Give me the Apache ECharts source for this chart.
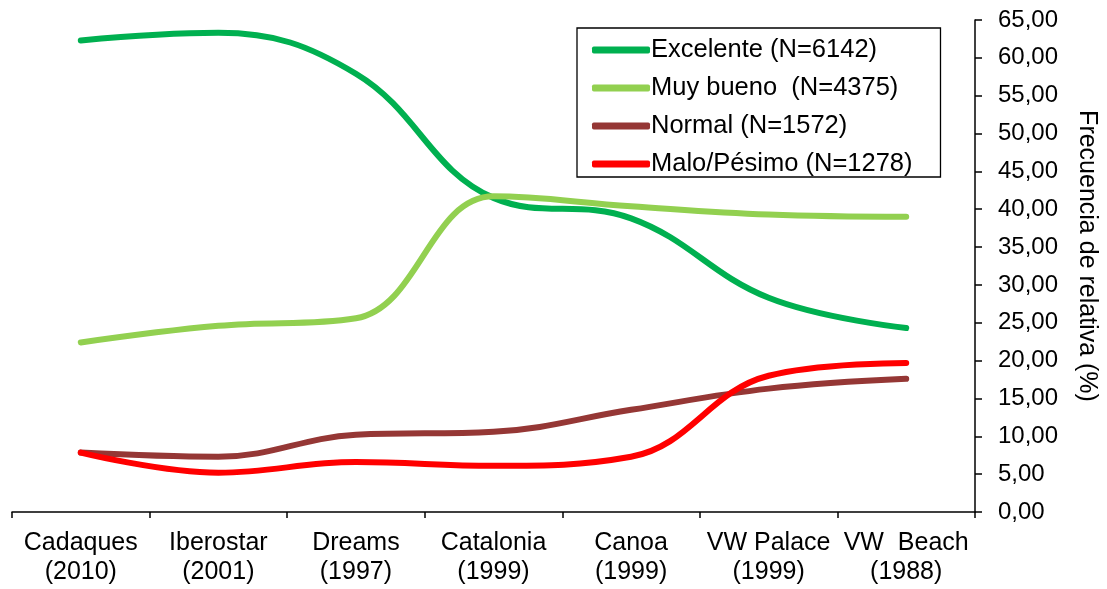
<!DOCTYPE html>
<html><head><meta charset="utf-8">
<script src="https://cdn.jsdelivr.net/npm/echarts@6/dist/echarts.min.js"></script>
<style>html,body{margin:0;padding:0;background:#fff}#c{width:1107px;height:589px}</style>
</head><body><div id="c"></div>
<script>
const categories = ['Cadaques\n(2010)','Iberostar\n(2001)','Dreams\n(1997)','Catalonia\n(1999)','Canoa\n(1999)','VW Palace\n(1999)','VW  Beach\n(1988)'];
const seriesNames = ['Excelente (N=6142)','Muy bueno  (N=4375)','Normal (N=1572)','Malo/Pésimo (N=1278)'];
const excelente = [62.3, 63.3, 57.9, 41.5, 38.8, 28.3, 24.3];
const muyBueno = [22.4, 24.6, 25.6, 41.7, 40.4, 39.3, 39.0];
const normal = [7.85, 7.3, 10.2, 10.6, 13.5, 16.3, 17.6];
const malo = [7.85, 5.2, 6.6, 6.1, 7.3, 18.0, 19.7];
const colors = ['#00B050','#92D050','#953735','#FF0000'];
const yTicks = {min: 0, max: 65, interval: 5};

const chart = echarts.init(document.getElementById('c'), null, {renderer:'canvas'});
const font = 'Liberation Sans, Arial, sans-serif';
const mk = (name, data, color) => ({
  name, type:'line', data, smooth:0.4, symbol:'none', color,
  lineStyle:{width:6, color, cap:'round', join:'round'}
});
chart.setOption({
  animation:false,
  textStyle:{fontFamily:font, color:'#000'},
  grid:{left:12, right:132, top:20, bottom:77, containLabel:false, outerBoundsMode:'none'},
  legend:{
    orient:'vertical', left:577, top:28,
    data: seriesNames,
    icon:'roundRect', itemWidth:58, itemHeight:7, itemGap:12,
    borderColor:'#000', borderWidth:1.3, padding:[9,28,0,15],
    textStyle:{fontFamily:font, fontSize:25.5, color:'#000', lineHeight:25, padding:[0,0,0,-4]}
  },
  xAxis:{
    type:'category', data:categories, boundaryGap:true,
    axisLine:{lineStyle:{color:'#000', width:1.5}},
    axisTick:{show:true, length:6, inside:false, lineStyle:{color:'#000', width:1.5}},
    axisLabel:{fontFamily:font, fontSize:25, color:'#000', lineHeight:29, margin:17, interval:0}
  },
  yAxis:{
    type:'value', position:'right', min:yTicks.min, max:yTicks.max, interval:yTicks.interval,
    splitLine:{show:false},
    axisLine:{show:true, lineStyle:{color:'#000', width:1.5}},
    axisTick:{show:true, length:7, lineStyle:{color:'#000', width:1.5}},
    axisLabel:{fontFamily:font, fontSize:24, color:'#000', margin:23,
      formatter: v => v.toFixed(2).replace('.', ',')},
    name:'Frecuencia de relativa (%)', nameLocation:'middle', nameRotate:-90, nameGap:99,
    nameTextStyle:{fontFamily:font, fontSize:25, color:'#000', padding:[0,20,0,0]}
  },
  series:[
    mk(seriesNames[0], excelente, colors[0]),
    mk(seriesNames[1], muyBueno, colors[1]),
    mk(seriesNames[2], normal, colors[2]),
    mk(seriesNames[3], malo, colors[3])
  ]
});
</script></body></html>
